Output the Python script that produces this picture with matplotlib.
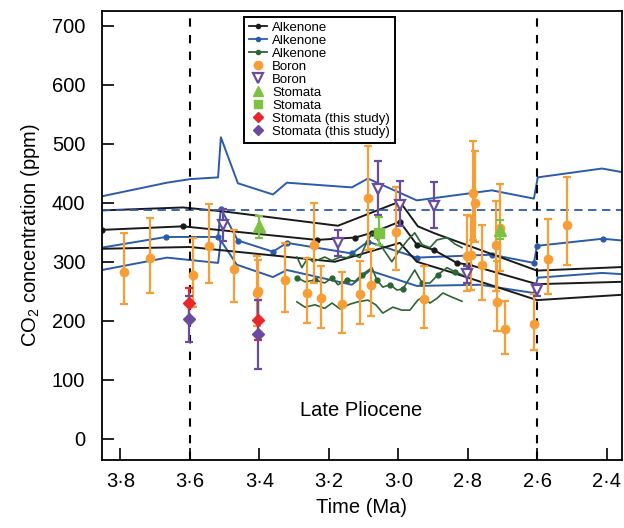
import matplotlib
matplotlib.use("Agg")
import matplotlib.pyplot as plt
from matplotlib.lines import Line2D

plt.rcParams['font.family'] = ['Liberation Sans', 'DejaVu Sans']
plt.rcParams['mathtext.fontset'] = 'custom'
plt.rcParams['mathtext.rm'] = 'Liberation Sans'
plt.rcParams['mathtext.default'] = 'regular'
plt.rcParams['lines.scale_dashes'] = False

# Alkenone record 1 (black): mean with upper / lower bounds
blk_mid_age = [3.853, 3.620, 3.235, 3.125, 3.076, 2.996, 2.947, 2.898, 2.832, 2.797, 2.601, 2.357]
blk_mid_co2 = [354, 360, 337, 341, 349, 368, 329, 320, 298, 295, 262, 266]
blk_hi_age = [3.853, 3.620, 3.499, 3.174, 2.996, 2.944, 2.895, 2.601, 2.357]
blk_hi_co2 = [387, 392, 385, 361, 402, 360, 348, 285, 291]
blk_lo_age = [3.853, 3.600, 3.183, 2.996, 2.947, 2.852, 2.601, 2.357]
blk_lo_co2 = [322, 325, 300, 332, 300, 283, 235, 244]

# Alkenone record 2 (blue)
blu_mid_age = [3.853, 3.669, 3.519, 3.511, 3.462, 3.361, 3.321, 3.134, 3.088, 2.947, 2.731, 2.610, 2.601, 2.412, 2.357]
blu_mid_co2 = [324, 342, 342, 390, 336, 317, 332, 314, 334, 307, 312, 298, 327, 339, 336]
blu_hi_age = [3.853, 3.666, 3.600, 3.519, 3.511, 3.462, 3.361, 3.321, 3.134, 3.088, 2.947, 2.731, 2.610, 2.599, 2.414, 2.357]
blu_hi_co2 = [411, 434, 440, 443, 511, 433, 414, 434, 426, 441, 404, 421, 407, 443, 458, 452]
blu_lo_age = [3.853, 3.666, 3.519, 3.511, 3.465, 3.361, 3.321, 3.134, 3.082, 2.947, 2.765, 2.610, 2.599, 2.414, 2.357]
blu_lo_co2 = [286, 307, 298, 336, 295, 274, 286, 261, 285, 259, 261, 247, 273, 281, 279]

# Alkenone record 3 (green)
grn_mid_age = [3.292, 3.269, 3.240, 3.212, 3.191, 3.174, 3.148, 3.125, 3.105, 3.076, 3.062,
               3.045, 3.024, 3.004, 2.987, 2.953, 2.932, 2.909, 2.886, 2.860, 2.837, 2.817]
grn_mid_co2 = [273, 266, 269, 264, 273, 261, 269, 267, 278, 290, 269,
               257, 261, 252, 254, 286, 264, 264, 278, 290, 283, 278]
grn_hi_age = [3.292, 3.278, 3.260, 3.246, 3.232, 3.212, 3.191, 3.168, 3.148, 3.131, 3.111, 3.094, 3.076,
              3.059, 3.042, 3.019, 2.996, 2.973, 2.953, 2.932, 2.909, 2.889, 2.860, 2.837, 2.817]
grn_hi_co2 = [308, 290, 307, 300, 303, 308, 302, 308, 307, 312, 307, 329, 349,
              337, 320, 300, 320, 337, 349, 329, 324, 337, 341, 330, 324]
grn_lo_age = [3.292, 3.269, 3.240, 3.212, 3.191, 3.168, 3.140, 3.117, 3.088, 3.065, 3.045,
              3.016, 2.990, 2.967, 2.944, 2.930, 2.909, 2.889, 2.872, 2.846, 2.817]
grn_lo_co2 = [232, 223, 227, 221, 230, 220, 228, 232, 235, 227, 213,
              223, 218, 218, 235, 240, 230, 238, 247, 240, 233]

# Boron (orange circles): value, lower and upper bound
bor_age = [3.790, 3.715, 3.590, 3.544, 3.472, 3.408, 3.403, 3.326, 3.262, 3.244, 3.222, 3.161, 3.111, 3.087,
           3.080, 3.007, 2.927, 2.784, 2.780, 2.803, 2.791, 2.760, 2.719, 2.709, 2.717, 2.694, 2.610, 2.570, 2.514]
bor_co2 = [283, 306, 278, 326, 287, 247, 250, 269, 247, 329, 238, 228, 245, 408,
           261, 350, 237, 416, 400, 310, 312, 295, 329, 358, 232, 186, 194, 305, 363]
bor_lo = [228, 247, 223, 264, 231, 191, 198, 215, 196, 264, 188, 179, 194, 320,
          208, 286, 187, 337, 334, 251, 252, 236, 251, 285, 182, 143, 150, 245, 294]
bor_hi = [348, 374, 341, 398, 353, 309, 303, 331, 306, 399, 293, 282, 302, 496,
          322, 427, 293, 504, 487, 380, 377, 362, 403, 432, 302, 234, 245, 373, 443]

# Boron (purple open triangles)
bor2_age = [3.504, 3.175, 3.058, 2.994, 2.898, 2.803, 2.601]
bor2_co2 = [363, 332, 424, 397, 395, 279, 252]
bor2_lo = [336, 309, 380, 361, 357, 264, 242]
bor2_hi = [390, 353, 471, 437, 435, 293, 262]

# Stomata (green triangles, green square)
sto_tri_age = [3.401, 2.708]
sto_tri_co2 = [361, 354]
sto_tri_lo = [341, 339]
sto_tri_hi = [377, 371]
sto_sq_age = [3.056]
sto_sq_co2 = [348]
sto_sq_lo = [329]
sto_sq_hi = [375]

# Stomata, this study
red_age = [3.603, 3.403]
red_co2 = [230, 201]
red_lo = [201, 167]
red_hi = [256, 236]
pur_age = [3.602, 3.403]
pur_co2 = [203, 178]
pur_lo = [164, 119]
pur_hi = [242, 235]

ref_co2 = 387
bounds_age = [3.6, 2.6]

xticks = [3.8, 3.6, 3.4, 3.2, 3.0, 2.8, 2.6, 2.4]
xtick_labels = ["3·8", "3·6", "3·4", "3·2", "3·0", "2·8", "2·6", "2·4"]
yticks = [0, 100, 200, 300, 400, 500, 600, 700]

c_black = "#1a1a1a"
c_blue = "#2a5caa"
c_green = "#2a6532"
c_orange = "#f89e36"
c_purple = "#6a4c9f"
c_lgreen = "#7dc142"
c_red = "#e8262b"


def err(v, lo, hi):
    return [[a - b for a, b in zip(v, lo)], [b - a for a, b in zip(v, hi)]]


fig = plt.figure(figsize=(6.24, 5.28), dpi=100)
ax = fig.add_axes([0.1635, 0.1288, 0.833, 0.8504])

lw = 1.4
ax.plot(blu_hi_age, blu_hi_co2, color=c_blue, lw=lw)
ax.plot(blu_lo_age, blu_lo_co2, color=c_blue, lw=lw)
ax.plot(blu_mid_age, blu_mid_co2, color=c_blue, lw=lw, marker="o", ms=3.5,
        markevery=slice(1, -1))
ax.plot(blk_hi_age, blk_hi_co2, color=c_black, lw=lw)
ax.plot(blk_lo_age, blk_lo_co2, color=c_black, lw=lw)
ax.plot(blk_mid_age, blk_mid_co2, color=c_black, lw=lw, marker="o", ms=3.5,
        markevery=slice(0, -2))
ax.plot(grn_hi_age, grn_hi_co2, color=c_green, lw=1.2)
ax.plot(grn_lo_age, grn_lo_co2, color=c_green, lw=1.2)
ax.plot(grn_mid_age, grn_mid_co2, color=c_green, lw=1.2, marker="o", ms=3.5,
        markevery=2)

ax.axhline(ref_co2, color=c_blue, lw=1.3, dashes=(6, 4))
for a in bounds_age:
    ax.axvline(a, color="black", lw=1.5, dashes=(6, 6))

ekw = dict(ls="none", elinewidth=1.6, capsize=3, capthick=1.6)
ax.errorbar(bor_age, bor_co2, yerr=err(bor_co2, bor_lo, bor_hi), fmt="o", ms=6,
            color=c_orange, **ekw)
ax.errorbar(bor2_age, bor2_co2, yerr=err(bor2_co2, bor2_lo, bor2_hi), fmt="v", ms=7.5,
            mfc="white", mec=c_purple, mew=1.6, color=c_purple, **ekw)
ax.errorbar(sto_tri_age, sto_tri_co2, yerr=err(sto_tri_co2, sto_tri_lo, sto_tri_hi),
            fmt="^", ms=8.5, color=c_lgreen, **ekw)
ax.errorbar(sto_sq_age, sto_sq_co2, yerr=err(sto_sq_co2, sto_sq_lo, sto_sq_hi),
            fmt="s", ms=6.5, color=c_lgreen, **ekw)
ax.errorbar(red_age, red_co2, yerr=err(red_co2, red_lo, red_hi), fmt="D", ms=6,
            color=c_red, **ekw)
ax.errorbar(pur_age, pur_co2, yerr=err(pur_co2, pur_lo, pur_hi), fmt="D", ms=6,
            color=c_purple, **ekw)

ax.text(3.108, 48, "Late Pliocene", ha="center", va="center", fontsize=14.5)

ax.set_xlim(3.853, 2.357)
ax.set_ylim(-36, 725)
ax.set_xticks(xticks)
ax.set_xticklabels(xtick_labels)
ax.set_yticks(yticks)
ax.tick_params(direction="in", length=8.5, width=1.2, labelsize=14.5, colors="black")
ax.tick_params(axis="y", pad=12)
ax.tick_params(axis="x", pad=9)
for s in ax.spines.values():
    s.set_linewidth(1.3)
ax.set_xlabel("Time (Ma)", fontsize=14.5, labelpad=5)
ax.set_ylabel("CO$_2$ concentration (ppm)", fontsize=14.5, labelpad=7)

handles = [
    Line2D([], [], color=c_black, lw=1.3, marker="o", ms=3),
    Line2D([], [], color=c_blue, lw=1.3, marker="o", ms=3),
    Line2D([], [], color=c_green, lw=1.3, marker="o", ms=3),
    Line2D([], [], ls="none", marker="o", ms=6, color=c_orange),
    Line2D([], [], ls="none", marker="v", ms=7, mfc="white", mec=c_purple, mew=1.6),
    Line2D([], [], ls="none", marker="^", ms=7.5, color=c_lgreen),
    Line2D([], [], ls="none", marker="s", ms=6, color=c_lgreen),
    Line2D([], [], ls="none", marker="D", ms=5.5, color=c_red),
    Line2D([], [], ls="none", marker="D", ms=5.5, color=c_purple),
]
labels = ["Alkenone", "Alkenone", "Alkenone", "Boron", "Boron", "Stomata", "Stomata",
          "Stomata (this study)", "Stomata (this study)"]
leg = ax.legend(handles, labels, loc="upper left", bbox_to_anchor=(0.273, 0.987),
                borderaxespad=0, fontsize=9.5, handlelength=1.4, handletextpad=0.4,
                labelspacing=0.06, borderpad=0.35, fancybox=False, framealpha=1,
                edgecolor="black")
leg.get_frame().set_linewidth(1.4)

fig.savefig("out.png", dpi=100)
